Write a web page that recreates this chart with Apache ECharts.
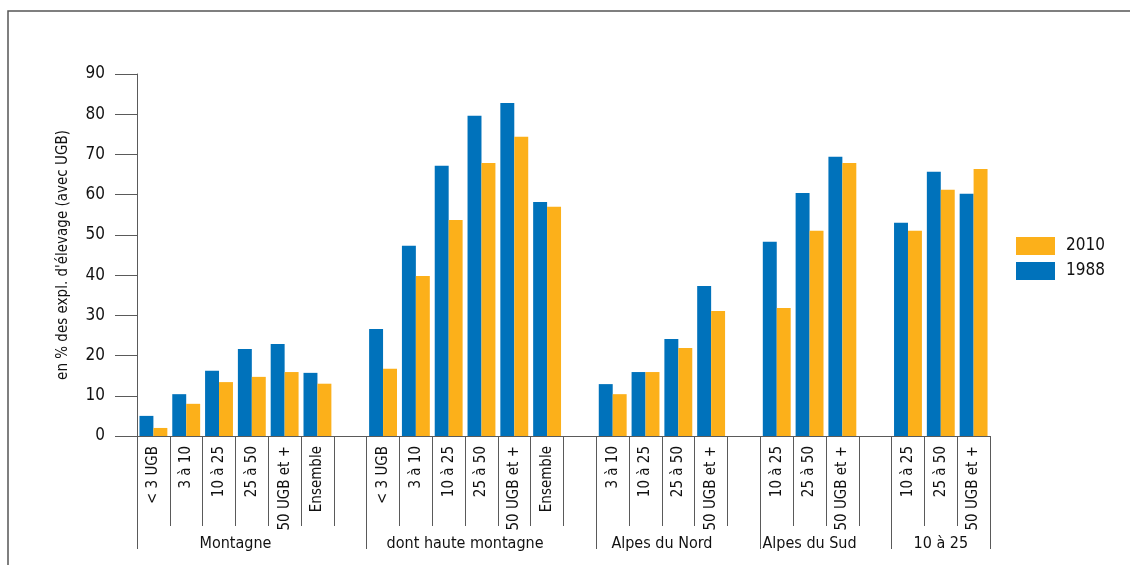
<!DOCTYPE html>
<html><head><meta charset="utf-8">
<script src="https://cdn.jsdelivr.net/npm/echarts@6/dist/echarts.min.js"></script>
<style>html,body{margin:0;padding:0;background:#fff}#c{width:1130px;height:565px}</style>
</head><body><div id="c"></div>
<script>
// Sub-categories (empty string = gap slot between groups)
const categories = ['< 3 UGB','3 à 10','10 à 25','25 à 50','50 UGB et +','Ensemble','',
  '< 3 UGB','3 à 10','10 à 25','25 à 50','50 UGB et +','Ensemble','',
  '3 à 10','10 à 25','25 à 50','50 UGB et +','',
  '10 à 25','25 à 50','50 UGB et +','',
  '10 à 25','25 à 50','50 UGB et +'];
const values1988 = [5.0,10.4,16.2,21.6,22.9,15.7,null,
  26.6,47.3,67.2,79.6,82.8,58.2,null,
  12.9,15.9,24.1,37.3,null,
  48.3,60.4,69.4,null,
  53.0,65.7,60.2];
const values2010 = [2.0,8.0,13.4,14.7,15.9,13.0,null,
  16.7,39.8,53.7,67.9,74.4,57.0,null,
  10.4,15.9,21.9,31.1,null,
  31.8,51.0,67.9,null,
  51.0,61.2,66.4];
const groupNames = ['Montagne','dont haute montagne','Alpes du Nord','Alpes du Sud','10 à 25'];
const groupCenters = [3, 10, 16, 20.5, 24.5];
const groupBounds = [0, 7, 14, 19, 23, 26];
const yTicks = [0,10,20,30,40,50,60,70,80,90];

const FONT = '"DejaVu Sans Condensed","Liberation Sans Narrow",sans-serif';
const BLUE = '#0072BB', ORANGE = '#FCB01A', GREY = '#5a5a5a';

const chart = echarts.init(document.getElementById('c'));
chart.setOption({
  animation: false,
  textStyle: {fontFamily: FONT},
  grid: {left: 137, top: 74, width: 853, height: 362},
  legend: {
    orient: 'vertical', left: 1011, top: 232, itemWidth: 39, itemHeight: 18, itemGap: 7,
    icon: 'rect', data: ['2010','1988'],
    textStyle: {fontFamily: FONT, fontSize: 17, color: '#111', padding: [0,0,0,6]}
  },
  xAxis: [{
    type: 'category', data: categories, position: 'bottom',
    axisLine: {lineStyle: {color: GREY, width: 1}},
    axisTick: {show: true, interval: 0, length: 90, lineStyle: {color: GREY}},
    axisLabel: {interval: 0, rotate: 90, margin: 10, fontSize: 15, color: '#111', fontFamily: FONT},
    splitLine: {show: false}
  }, {
    type: 'value', min: 0, max: 26, position: 'bottom',
    axisLine: {show: false},
    axisTick: {show: true, customValues: groupBounds, length: 113, lineStyle: {color: GREY}},
    axisLabel: {customValues: groupCenters, margin: 100, fontSize: 16, color: '#111', fontFamily: FONT,
      formatter: v => { const i = groupCenters.indexOf(v); return i >= 0 ? groupNames[i] : ''; }},
    splitLine: {show: false}
  }],
  yAxis: {
    type: 'value', min: 0, max: 90, interval: 10,
    name: "en % des expl. d'élevage (avec UGB)", nameLocation: 'middle', nameGap: 66,
    nameTextStyle: {fontSize: 15, color: '#111', fontFamily: FONT},
    axisLine: {show: true, lineStyle: {color: GREY}},
    axisTick: {show: true, length: 22, lineStyle: {color: GREY}},
    axisLabel: {fontSize: 17, color: '#111', margin: 32, fontFamily: FONT,
      formatter: v => yTicks.includes(v) ? String(v) : ''},
    splitLine: {show: false}
  },
  series: [
    {name: '1988', type: 'bar', data: values1988, barGap: '0%', barCategoryGap: '15%',
      itemStyle: {color: BLUE}},
    {name: '2010', type: 'bar', data: values2010, barGap: '0%', barCategoryGap: '15%',
      itemStyle: {color: ORANGE}}
  ],
  graphic: [{
    type: 'polyline', shape: {points: [[8,565],[8,11],[1130,11]]},
    style: {stroke: '#555', lineWidth: 1.5, fill: null}
  }]
});
</script></body></html>
